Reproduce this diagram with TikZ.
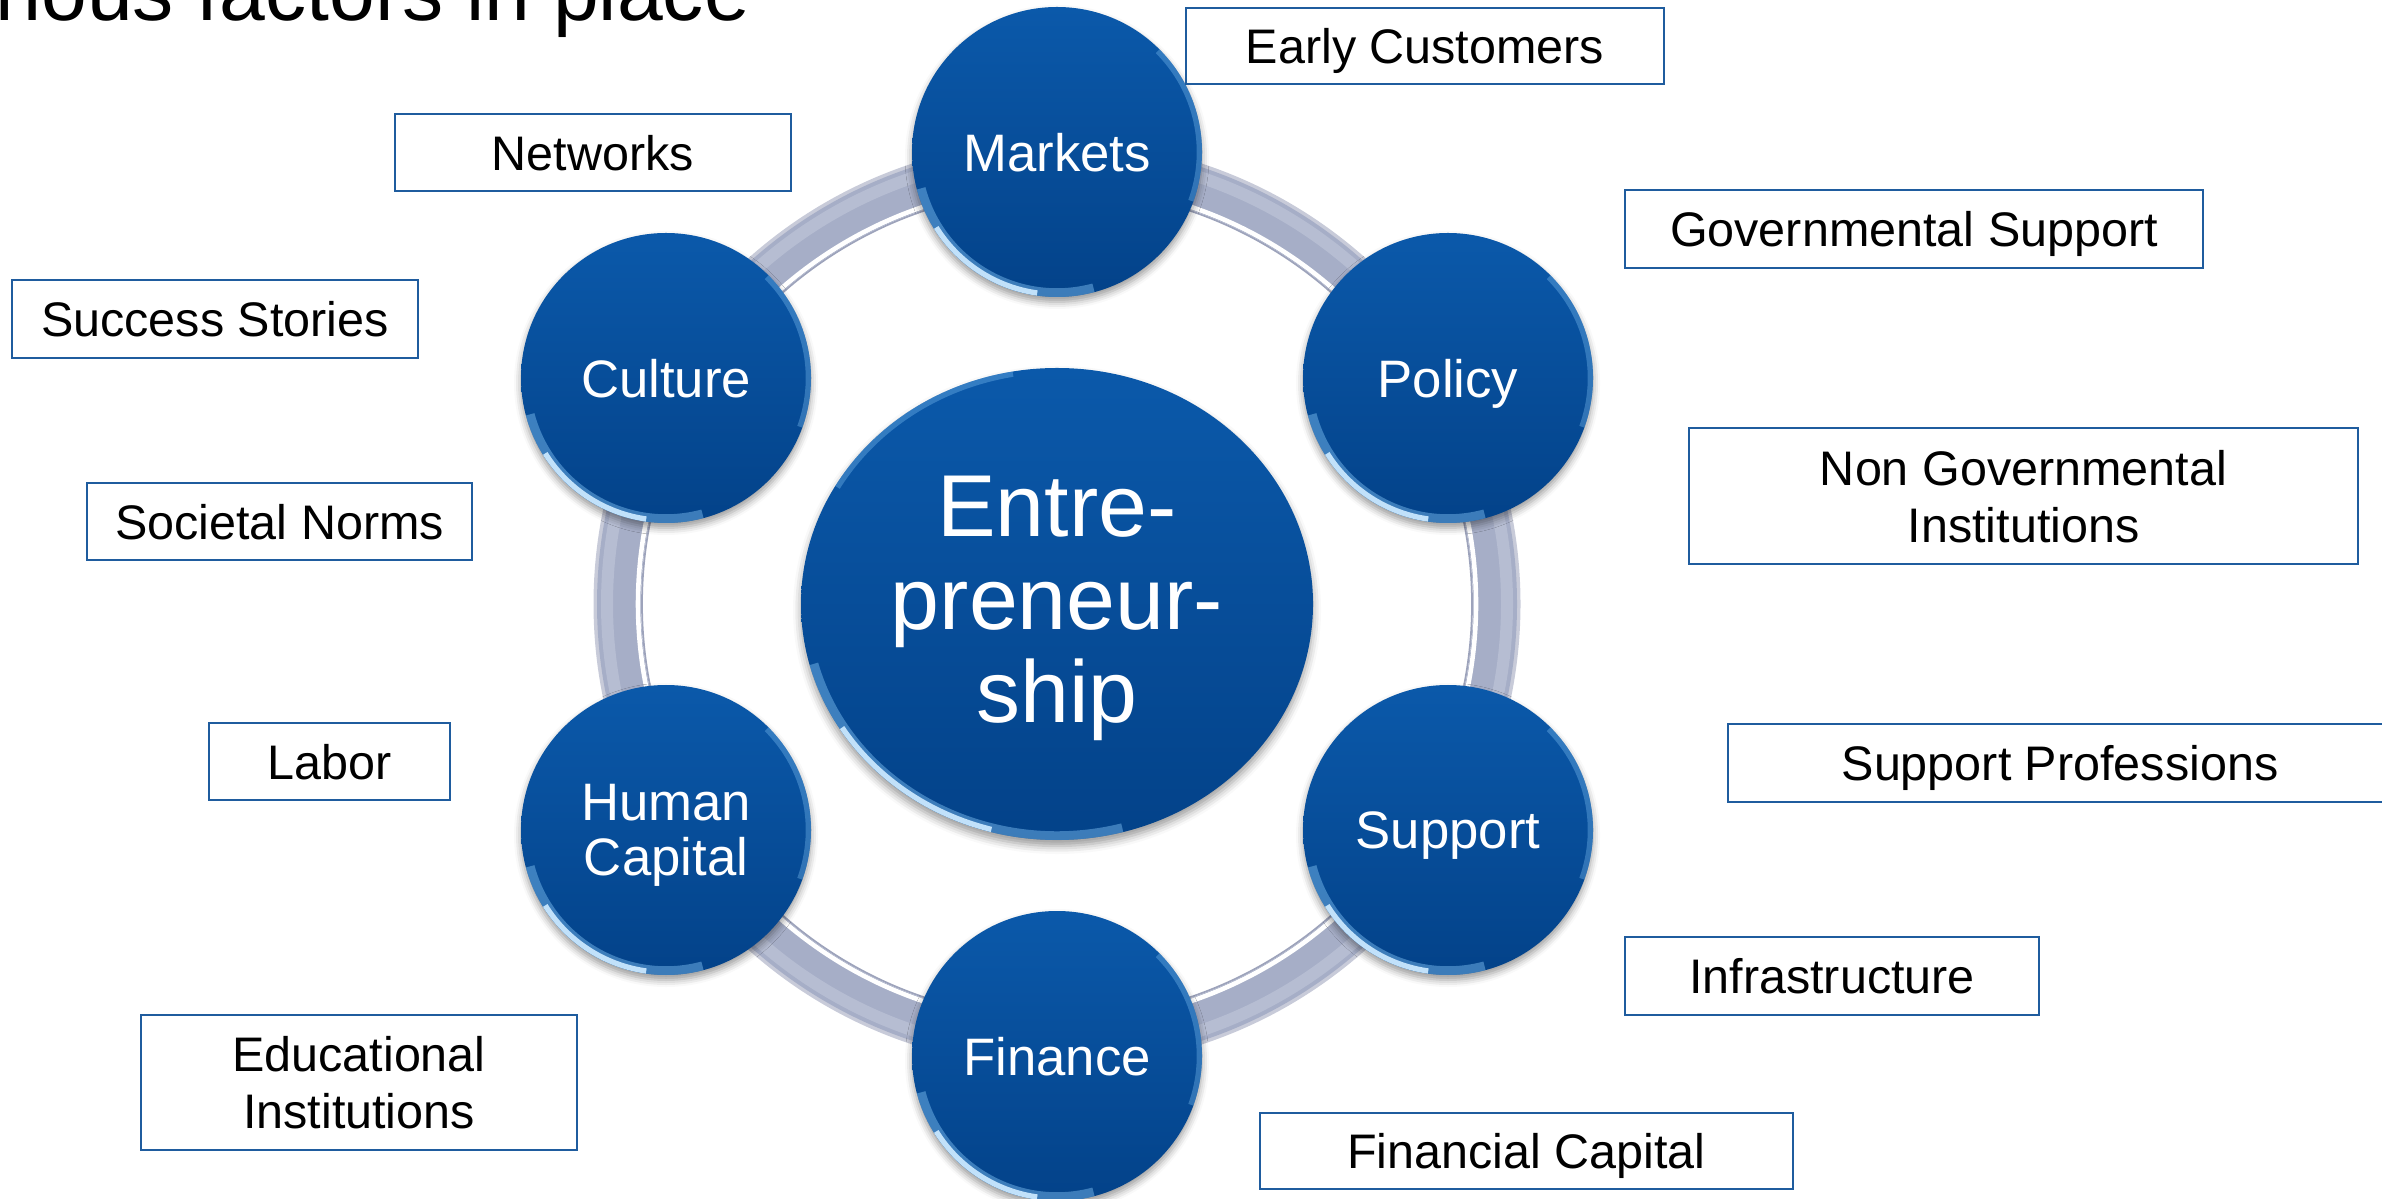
\documentclass[tikz,border=0pt]{standalone}
\usepackage{fontspec}
\setmainfont{Liberation Sans}
\usetikzlibrary{shapes.geometric,shadows.blur}

\definecolor{bubbletop}{RGB}{11,89,170}
\definecolor{bubblebot}{RGB}{3,66,137}
\definecolor{gleamblue}{RGB}{130,195,245}
\definecolor{ringgray}{RGB}{166,174,199}
\definecolor{ringlight}{RGB}{182,189,210}
\definecolor{ringdark}{RGB}{132,140,170}
\definecolor{boxblue}{RGB}{31,92,158}

\tikzset{
  bubble/.style={circle, minimum size=2.9cm, inner sep=0pt, align=center,
    top color=bubbletop, bottom color=bubblebot, text=white, text depth=0pt,
    font=\fontsize{15}{15.8}\selectfont,
    blur shadow={shadow xshift=0pt, shadow yshift=-0.05cm, shadow blur radius=0.07cm, shadow opacity=40},
    path picture={
      \draw[gleamblue, line width=5pt, opacity=0.45] ([shift={(195:1.45)}]path picture bounding box.center) arc[start angle=195, end angle=285, radius=1.45];
      \draw[gleamblue!50!white, line width=3pt] ([shift={(212:1.45)}]path picture bounding box.center) arc[start angle=212, end angle=262, radius=1.45];
      \draw[gleamblue, line width=3pt, opacity=0.35] ([shift={(-20:1.45)}]path picture bounding box.center) arc[start angle=-20, end angle=45, radius=1.45];
    }},
  hub/.style={circle, ellipse, minimum width=5.12cm, minimum height=4.72cm, inner sep=0pt, align=center,
    top color=bubbletop, bottom color=bubblebot, text=white, text depth=0.1cm,
    font=\fontsize{25}{26.5}\selectfont,
    blur shadow={shadow xshift=0pt, shadow yshift=-0.06cm, shadow blur radius=0.08cm, shadow opacity=40},
    path picture={
      \draw[gleamblue, line width=5pt, opacity=0.45] ([shift={(195:2.56 and 2.36)}]path picture bounding box.center) arc[start angle=195, end angle=285, x radius=2.56, y radius=2.36];
      \draw[gleamblue!50!white, line width=3pt] ([shift={(212:2.56 and 2.36)}]path picture bounding box.center) arc[start angle=212, end angle=255, x radius=2.56, y radius=2.36];
      \draw[gleamblue, line width=3pt, opacity=0.35] ([shift={(100:2.56 and 2.36)}]path picture bounding box.center) arc[start angle=100, end angle=150, x radius=2.56, y radius=2.36];
    }},
  factor/.style={draw=boxblue, line width=0.75pt, inner sep=0pt, align=center, text depth=0pt,
    font=\fontsize{13.8}{16.2}\selectfont},
  ring/.style={ringgray, line width=0.44cm}
}

\begin{document}
\begin{tikzpicture}
\path[use as bounding box, clip] (0,0) rectangle (23.82,-11.99);

%title line, cut by the frame
\node[anchor=base west, inner sep=0pt, font=\fontsize{23.4}{26}\selectfont] (title) at (-0.05,-0.21) {rious factors in place};

%centre
\node[hub] (hub) at (10.57,-6.04) {Entre-\\preneur-\\ship};

%ring behind the bubbles
\draw[ringdark!45!white, line width=0.05cm] (hub.center) circle (4.61);
\draw[ring] (hub.center) circle (4.38);
\draw[ringlight, line width=0.12cm] (hub.center) circle (4.50);
\draw[ringdark!80!white, line width=0.5pt] (hub.center) circle (4.15);
\draw[white, line width=1.3pt] (hub.center) circle (4.19);

%the six bubbles
\node[bubble] (markets) at (10.57,-1.52) {Markets};
\node[bubble] (policy) at (14.48,-3.78) {Policy};
\node[bubble] (support) at (14.48,-8.30) {Support};
\node[bubble] (finance) at (10.57,-10.56) {Finance};
\node[bubble] (human) at (6.66,-8.30) {Human\\Capital};
\node[bubble] (culture) at (6.66,-3.78) {Culture};

%boxes on the left
\node[factor, minimum width=3.96cm, minimum height=0.77cm] (networks) at (5.93,-1.525) {Networks};
\node[factor, minimum width=4.06cm, minimum height=0.78cm] (success) at (2.15,-3.19) {Success Stories};
\node[factor, minimum width=3.85cm, minimum height=0.77cm] (norms) at (2.795,-5.215) {Societal Norms};
\node[factor, minimum width=2.41cm, minimum height=0.77cm] (labor) at (3.295,-7.615) {Labor};
\node[factor, minimum width=4.36cm, minimum height=1.35cm] (edu) at (3.59,-10.825) {Educational\\Institutions};

%boxes on the right
\node[factor, minimum width=4.78cm, minimum height=0.76cm] (early) at (14.25,-0.46) {Early Customers};
\node[factor, minimum width=5.78cm, minimum height=0.78cm] (gov) at (19.14,-2.29) {Governmental Support};
\node[factor, minimum width=6.69cm, minimum height=1.36cm] (ngo) at (20.235,-4.96) {Non Governmental\\Institutions};
\node[factor, minimum width=6.64cm, minimum height=0.78cm] (prof) at (20.60,-7.63) {Support Professions};
\node[factor, minimum width=4.14cm, minimum height=0.78cm] (infra) at (18.32,-9.76) {Infrastructure};
\node[factor, minimum width=5.33cm, minimum height=0.76cm] (fincap) at (15.265,-11.51) {Financial Capital};
\end{tikzpicture}
\end{document}
